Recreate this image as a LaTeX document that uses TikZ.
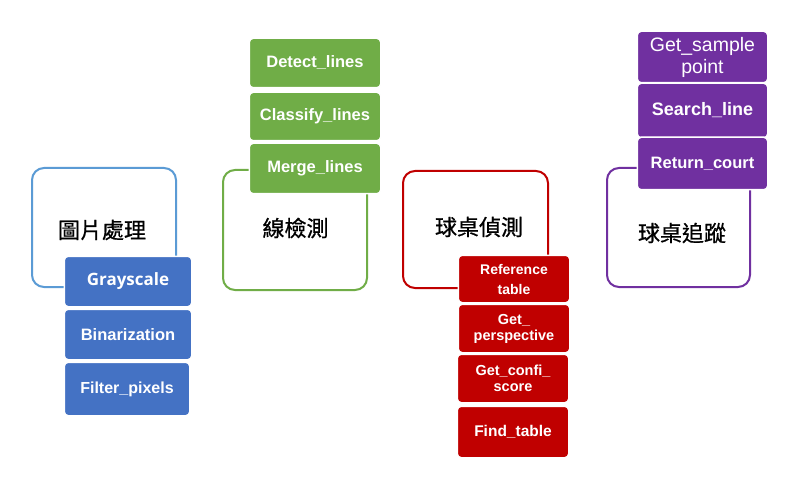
\documentclass[tikz,border=0pt]{standalone}
\usepackage{fontspec}
\setmainfont{Liberation Sans}
\newfontfamily\cjkfont[FakeBold=0.8]{Noto Sans CJK TC}
\newfontfamily\grayfont{Open Sans}
\definecolor{cblue}{HTML}{4472C4}
\definecolor{cblueline}{HTML}{5B9BD5}
\definecolor{cgreen}{HTML}{70AD47}
\definecolor{cred}{HTML}{C00000}
\definecolor{cpurple}{HTML}{7030A0}
\begin{document}
\begin{tikzpicture}[x=1pt,y=-1pt,
  outline/.style={draw=#1, line width=2pt, rounded corners=12pt, fill=white, inner sep=0pt},
  fbox/.style={fill=#1, draw=white, line width=1.5pt, rounded corners=4pt, text=white, align=center, inner sep=0pt},
  cjk/.style={font=\cjkfont\fontsize{22}{24}\selectfont, text=black, inner sep=0pt},
  bf/.style={font=\bfseries\fontsize{#1}{#1}\selectfont}
]
\useasboundingbox (0,0) rectangle (812,484);
\fill[white] (0,0) rectangle (812,484);

% --- blue group
\node[outline=cblueline, minimum width=144pt, minimum height=119pt] (o1) at (104,227.5) {};
\node[cjk] (t1) at (102,230) {圖片處理};
\node[fbox=cblue, minimum width=127.5pt, minimum height=50.5pt, font=\grayfont\bfseries\fontsize{17}{18}\selectfont] (gray) at (128,281.5) {Grayscale};
\node[fbox=cblue, minimum width=127.5pt, minimum height=50.5pt, bf=16.5] (bin) at (128,334.5) {Binarization};
\node[fbox=cblue, minimum width=125.5pt, minimum height=53.5pt, bf=16] (filt) at (127,389) {Filter\_pixels};

% --- green group
\node[outline=cgreen, minimum width=144pt, minimum height=120pt] (o2) at (295,230) {};
\node[cjk] (t2) at (295.5,228) {線檢測};
\node[fbox=cgreen, minimum width=131.5pt, minimum height=49.5pt, bf=16.5] (det) at (315,63) {Detect\_lines};
\node[fbox=cgreen, minimum width=131.5pt, minimum height=48.5pt, bf=16.5] (cls) at (315,116.5) {Classify\_lines};
\node[fbox=cgreen, minimum width=131.5pt, minimum height=50.5pt, bf=16.5] (mrg) at (315,168.5) {Merge\_lines};

% --- red group
\node[outline=cred, minimum width=145pt, minimum height=117pt] (o3) at (475.5,229.5) {};
\node[cjk] (t3) at (479,227) {球桌偵測};
\node[fbox=cred, minimum width=111.5pt, minimum height=47.5pt, font=\bfseries\fontsize{14}{20}\selectfont] (ref) at (514,279) {Reference\\table};
\node[fbox=cred, minimum width=111.5pt, minimum height=48.5pt, font=\bfseries\fontsize{14.5}{16}\selectfont] (per) at (514,328.5) {Get\_\\perspective};
\node[fbox=cred, minimum width=111.5pt, minimum height=48.5pt, font=\bfseries\fontsize{14.5}{16}\selectfont] (cnf) at (513,378.5) {Get\_confi\_\\score};
\node[fbox=cred, minimum width=111.5pt, minimum height=51.5pt, bf=15.5] (fnd) at (513,432) {Find\_table};

% --- purple group
\node[outline=cpurple, minimum width=143pt, minimum height=119pt] (o4) at (678.5,227.5) {};
\node[cjk] (t4) at (682,233) {球桌追蹤};
\node[fbox=cpurple, minimum width=130.5pt, minimum height=51.5pt, font=\fontsize{19.5}{22}\selectfont] (smp) at (702.5,57) {Get\_sample\\point};
\node[fbox=cpurple, minimum width=130.5pt, minimum height=54.5pt, bf=18] (srch) at (702.5,110.5) {Search\_line};
\node[fbox=cpurple, minimum width=130.5pt, minimum height=52.5pt, bf=16.5] (ret) at (702.5,163.5) {Return\_court};
\end{tikzpicture}
\end{document}
